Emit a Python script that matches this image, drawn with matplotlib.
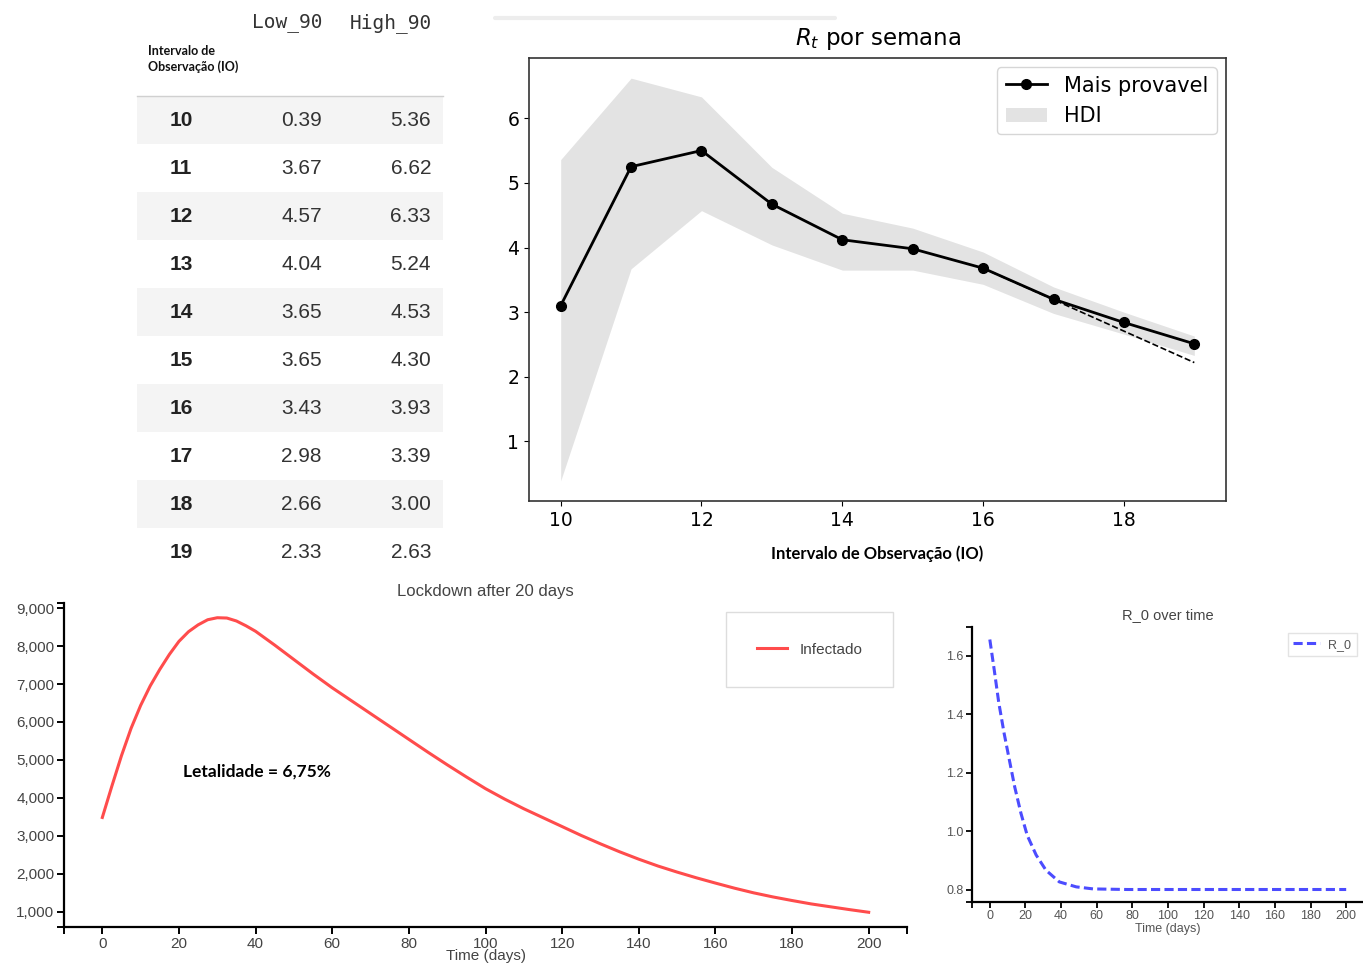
import matplotlib
matplotlib.use("Agg")
from matplotlib import pyplot as plt
from matplotlib.patches import Rectangle
from matplotlib.ticker import FuncFormatter

# weekly Rt table / chart
io_weeks = [10, 11, 12, 13, 14, 15, 16, 17, 18, 19]
low_90 = [0.39, 3.67, 4.57, 4.04, 3.65, 3.65, 3.43, 2.98, 2.66, 2.33]
high_90 = [5.36, 6.62, 6.33, 5.24, 4.53, 4.30, 3.93, 3.39, 3.00, 2.63]
most_likely = [3.10, 5.25, 5.50, 4.67, 4.12, 3.98, 3.68, 3.20, 2.84, 2.51]
trend_weeks = [16, 19]
trend_rt = [3.68, 2.22]

# infected curve (lockdown after 20 days)
days_inf = [0, 2.5, 5, 7.5, 10, 12.5, 15, 17.5, 20, 22.5, 25, 27.5, 30, 32.5, 35, 37.5, 40,
            45, 50, 55, 60, 65, 70, 75, 80, 85, 90, 95, 100, 105, 110, 115, 120, 125, 130,
            135, 140, 145, 150, 155, 160, 165, 170, 175, 180, 185, 190, 195, 200]
infected = [3480, 4310, 5110, 5830, 6435, 6950, 7385, 7780, 8125, 8380, 8560, 8695, 8748,
            8740, 8662, 8535, 8390, 8025, 7645, 7265, 6900, 6560, 6220, 5880, 5540, 5200,
            4870, 4550, 4240, 3965, 3710, 3475, 3240, 3005, 2785, 2575, 2380, 2200, 2040,
            1890, 1750, 1615, 1492, 1385, 1290, 1200, 1125, 1050, 980]

# R_0 over time
days_r0 = [0, 2.5, 5, 8, 11, 14, 17.5, 21, 26, 31.5, 39, 48.5, 58, 77, 100, 150, 200]
r0_values = [1.655, 1.55, 1.44, 1.335, 1.242, 1.15, 1.06, 0.985, 0.918, 0.866, 0.826,
             0.809, 0.802, 0.80, 0.80, 0.80, 0.80]

W, H = 1363, 965
fig = plt.figure(figsize=(W / 100, H / 100), dpi=100)


def px_box(left, top, right, bottom):
    return [left / W, 1 - bottom / H, (right - left) / W, (bottom - top) / H]


def end_ticks(ax, length, width):
    # d3-like outer ticks at the ends of each axis line
    ax.set_xticks(list(ax.get_xlim()), minor=True)
    ax.set_yticks(list(ax.get_ylim()), minor=True)
    ax.tick_params(which="minor", length=length, width=width, labelleft=False, labelbottom=False)


# 1. the table, drawn in pixel space
bg = fig.add_axes([0, 0, 1, 1])
bg.set_xlim(0, W)
bg.set_ylim(H, 0)
bg.axis("off")
bg.plot([495, 835], [18, 18], color="#ededed", lw=3, solid_capstyle="round")
bg.text(322, 23, "Low_90", family="DejaVu Sans Mono", fontsize=14, ha="right", va="center", color="#333333")
bg.text(432, 23, "High_90", family="DejaVu Sans Mono", fontsize=14, ha="right", va="center", color="#333333")
bg.text(148, 59, "Intervalo de\nObservação (IO)", family="Lato", weight="bold", fontsize=9,
        va="center", linespacing=1.35, color="#111111")
bg.plot([137, 443], [96, 96], color="#d0d0d0", lw=1)
for i, (wk, lo, hi) in enumerate(zip(io_weeks, low_90, high_90)):
    yc = 120 + 48 * i
    if i % 2 == 0:
        bg.add_patch(Rectangle((137, yc - 24), 306, 48, color="#f4f4f4", lw=0))
    bg.text(181, yc, str(wk), ha="center", va="center", weight="bold", fontsize=15,
            family="Liberation Sans", color="#222222")
    bg.text(322, yc, f"{lo:.2f}", ha="right", va="center", fontsize=15,
            family="Liberation Sans", color="#333333")
    bg.text(431, yc, f"{hi:.2f}", ha="right", va="center", fontsize=15,
            family="Liberation Sans", color="#333333")

# 2. Rt per week
ax = fig.add_axes(px_box(529, 58, 1226, 501))
hdi = ax.fill_between(io_weeks, low_90, high_90, color="k", alpha=0.11, lw=0, label="HDI")
ml, = ax.plot(io_weeks, most_likely, "k-o", lw=2, ms=7, label="Mais provavel")
ax.plot(trend_weeks, trend_rt, "k--", lw=1.2)
ax.set_title("$R_t$ por semana", fontsize=16.5, pad=9)
ax.set_xlabel("Intervalo de Observação (IO)", family="Lato", weight="bold", fontsize=12, labelpad=11)
ax.tick_params(labelsize=13.5)
for s in ax.spines.values():
    s.set_color("#333333")
    s.set_linewidth(1.2)
ax.legend(handles=[ml, hdi], loc="upper right", fontsize=15, borderaxespad=0.45)

# 3. infected
ax2 = fig.add_axes(px_box(64, 603, 907, 927))
ax2.plot(days_inf, infected, color="r", alpha=0.7, lw=2.2, label="Infectado")
ax2.spines[["top", "right"]].set_visible(False)
ax2.spines[["left", "bottom"]].set_linewidth(1.6)
ax2.set_xticks(range(0, 201, 20))
ax2.set_yticks(range(1000, 9001, 1000))
ax2.yaxis.set_major_formatter(FuncFormatter(lambda v, p: f"{v:,.0f}"))
ax2.tick_params(length=5, width=1.4, labelsize=11, labelcolor="#444444", pad=2)
for lab in ax2.get_xticklabels() + ax2.get_yticklabels():
    lab.set_family("Liberation Sans")
end_ticks(ax2, 5, 1.4)
ax2.set_title("Lockdown after 20 days", fontsize=12, color="#444444", family="Liberation Sans", pad=5)
ax2.set_xlabel("Time (days)", fontsize=11, color="#444444", family="Liberation Sans")
ax2.xaxis.set_label_coords(0.5, -0.068)
ax2.text(21, 4700, "Letalidade = 6,75%", family="Lato", weight="bold", fontsize=12.5, va="center")
leg2 = ax2.legend(loc="upper left", bbox_to_anchor=(726 / W, 1 - 612 / H), bbox_transform=fig.transFigure,
                  borderaxespad=0, borderpad=2.0, handlelength=2.0, handletextpad=0.8, fancybox=False,
                  edgecolor="#dddddd", framealpha=1, prop={"family": "Liberation Sans", "size": 11})
for t in leg2.get_texts():
    t.set_color("#444444")

# 4. R_0 over time
ax3 = fig.add_axes(px_box(972, 627, 1364, 902))
ax3.plot(days_r0, r0_values, color="b", alpha=0.7, lw=2.2, ls=(0, (3.0, 1.4)), label="R_0")
ax3.spines[["top", "right"]].set_visible(False)
ax3.spines[["left", "bottom"]].set_linewidth(1.6)
ax3.set_xticks(range(0, 201, 20))
ax3.set_yticks([0.8, 1.0, 1.2, 1.4, 1.6])
ax3.yaxis.set_major_formatter(FuncFormatter(lambda v, p: f"{v:.1f}"))
ax3.tick_params(length=4, width=1.3, labelsize=9, labelcolor="#555555", pad=2)
for lab in ax3.get_xticklabels() + ax3.get_yticklabels():
    lab.set_family("Liberation Sans")
end_ticks(ax3, 4, 1.3)
ax3.set_title("R_0 over time", fontsize=10.5, color="#444444", family="Liberation Sans", pad=6)
ax3.set_xlabel("Time (days)", fontsize=9, color="#555555", family="Liberation Sans")
ax3.xaxis.set_label_coords(0.5, -0.075)
leg3 = ax3.legend(loc="upper right", bbox_to_anchor=(1357 / W, 1 - 633 / H), bbox_transform=fig.transFigure,
                  borderaxespad=0, borderpad=0.45, handlelength=2.1, handletextpad=0.7, fancybox=False,
                  edgecolor="#e3e3e3", framealpha=1, prop={"family": "Liberation Sans", "size": 9})
for t in leg3.get_texts():
    t.set_color("#555555")

fig.savefig("out.png", dpi=100)
